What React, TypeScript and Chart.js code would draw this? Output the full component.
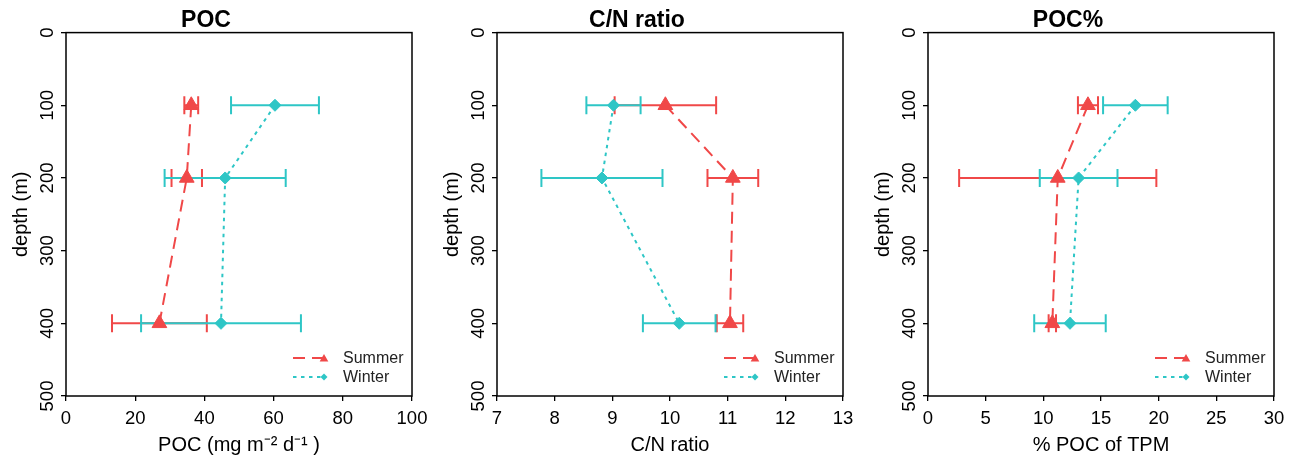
import React, { useEffect, useRef } from "react";
import { Chart, registerables } from "chart.js";

Chart.register(...registerables);

// ---------- data ----------
const depths = [100, 200, 400];
const depthTicks = [0, 100, 200, 300, 400, 500];

const pocTicks = [0, 20, 40, 60, 80, 100];
const pocSummer = [36.2, 34.9, 27.0];
const pocSummerErr = [2.0, 4.4, 13.7];
const pocWinter = [60.4, 46.0, 44.8];
const pocWinterErr = [12.7, 17.5, 23.1];

const cnTicks = [7, 8, 9, 10, 11, 12, 13];
const cnSummer = [9.92, 11.09, 11.04];
const cnSummerErr = [0.88, 0.44, 0.23];
const cnWinter = [9.02, 8.82, 10.16];
const cnWinterErr = [0.47, 1.05, 0.63];

const pctTicks = [0, 5, 10, 15, 20, 25, 30];
const pctSummer = [13.87, 11.25, 10.78];
const pctSummerErr = [0.87, 8.55, 0.32];
const pctWinter = [17.98, 13.06, 12.31];
const pctWinterErr = [2.8, 3.37, 3.1];

const seriesNames = ["Summer", "Winter"];

// ---------- styles ----------
const RED = "#F04848";
const CYAN = "#2EC6C6";
const FONT = '"Liberation Sans", Arial, Helvetica, sans-serif';
const SUMMER_DASH = [12, 7];
const WINTER_DASH = [3.5, 4.5];

type PanelDef = {
  title: string;
  xTitle: string;
  xTicks: number[];
  summer: number[];
  summerErr: number[];
  winter: number[];
  winterErr: number[];
};

const panels: PanelDef[] = [
  {
    title: "POC",
    xTitle: "POC (mg m\u207B\u00B2 d\u207B\u00B9 )",
    xTicks: pocTicks,
    summer: pocSummer,
    summerErr: pocSummerErr,
    winter: pocWinter,
    winterErr: pocWinterErr,
  },
  {
    title: "C/N ratio",
    xTitle: "C/N ratio",
    xTicks: cnTicks,
    summer: cnSummer,
    summerErr: cnSummerErr,
    winter: cnWinter,
    winterErr: cnWinterErr,
  },
  {
    title: "POC%",
    xTitle: "% POC of TPM",
    xTicks: pctTicks,
    summer: pctSummer,
    summerErr: pctSummerErr,
    winter: pctWinter,
    winterErr: pctWinterErr,
  },
];

function drawTriangle(ctx: CanvasRenderingContext2D, x: number, y: number, r: number) {
  ctx.beginPath();
  ctx.moveTo(x, y - r);
  ctx.lineTo(x + Math.sin((2 * Math.PI) / 3) * r, y + r / 2);
  ctx.lineTo(x - Math.sin((2 * Math.PI) / 3) * r, y + r / 2);
  ctx.closePath();
  ctx.fill();
}

function drawDiamond(ctx: CanvasRenderingContext2D, x: number, y: number, r: number) {
  ctx.beginPath();
  ctx.moveTo(x, y - r);
  ctx.lineTo(x + r, y);
  ctx.lineTo(x, y + r);
  ctx.lineTo(x - r, y);
  ctx.closePath();
  ctx.fill();
}

const errorBarPlugin = {
  id: "errorBars",
  beforeDatasetsDraw(chart: any) {
    const ctx = chart.ctx as CanvasRenderingContext2D;
    const xs = chart.scales.x;
    const ys = chart.scales.y;
    chart.data.datasets.forEach((ds: any) => {
      const errs: number[] = ds.errors || [];
      ctx.save();
      ctx.strokeStyle = ds.borderColor;
      ctx.lineWidth = 2;
      ctx.setLineDash([]);
      ds.data.forEach((p: any, i: number) => {
        const e = errs[i] || 0;
        const x1 = xs.getPixelForValue(p.x - e);
        const x2 = xs.getPixelForValue(p.x + e);
        const y = ys.getPixelForValue(p.y);
        const cap = 9;
        ctx.beginPath();
        ctx.moveTo(x1, y);
        ctx.lineTo(x2, y);
        ctx.moveTo(x1, y - cap);
        ctx.lineTo(x1, y + cap);
        ctx.moveTo(x2, y - cap);
        ctx.lineTo(x2, y + cap);
        ctx.stroke();
      });
      ctx.restore();
    });
  },
};

const framePlugin = {
  id: "frame",
  afterDraw(chart: any) {
    const ctx = chart.ctx as CanvasRenderingContext2D;
    const a = chart.chartArea;
    ctx.save();
    ctx.strokeStyle = "#000";
    ctx.lineWidth = 1.5;
    ctx.setLineDash([]);
    ctx.strokeRect(a.left, a.top, a.right - a.left, a.bottom - a.top);

    // rotated y tick labels (parallel to the axis)
    const ys = chart.scales.y;
    ctx.fillStyle = "#000";
    ctx.font = `18.5px ${FONT}`;
    ctx.textAlign = "center";
    ctx.textBaseline = "alphabetic";
    ys.ticks.forEach((t: any) => {
      const y = ys.getPixelForValue(t.value);
      ctx.save();
      ctx.translate(ys.right - 13, y);
      ctx.rotate(-Math.PI / 2);
      ctx.fillText(String(t.value), 0, 0);
      ctx.restore();
    });

    // legend
    const ds = chart.data.datasets;
    ctx.font = `16px ${FONT}`;
    ctx.textAlign = "left";
    ctx.textBaseline = "middle";
    ds.forEach((d: any, i: number) => {
      const y = a.bottom - 38 + i * 19;
      const x0 = a.right - 119;
      ctx.save();
      ctx.strokeStyle = d.borderColor;
      ctx.lineWidth = 2;
      ctx.setLineDash(d.borderDash);
      ctx.beginPath();
      ctx.moveTo(x0, y);
      ctx.lineTo(x0 + 32, y);
      ctx.stroke();
      ctx.setLineDash([]);
      ctx.fillStyle = d.borderColor;
      if (d.pointStyle === "triangle") drawTriangle(ctx, x0 + 31, y + 1, 5);
      else drawDiamond(ctx, x0 + 31, y, 3.5);
      ctx.restore();
      ctx.fillStyle = "#222";
      ctx.fillText(d.label, a.right - 69, y + 1);
    });
    ctx.restore();
  },
};

function PanelChart({ panel }: { panel: PanelDef }) {
  const ref = useRef<HTMLCanvasElement>(null);
  useEffect(() => {
    const toPts = (vals: number[]) => depths.map((d, i) => ({ x: vals[i], y: d }));
    const xMin = panel.xTicks[0];
    const xMax = panel.xTicks[panel.xTicks.length - 1];
    const chart = new Chart(ref.current as HTMLCanvasElement, {
      type: "scatter",
      data: {
        datasets: [
          {
            label: seriesNames[0],
            data: toPts(panel.summer),
            errors: panel.summerErr,
            showLine: true,
            borderColor: RED,
            backgroundColor: RED,
            borderWidth: 2,
            borderDash: SUMMER_DASH,
            pointStyle: "triangle",
            pointRadius: 8.5,
            pointBackgroundColor: RED,
            pointBorderColor: RED,
            pointBorderWidth: 1,
          } as any,
          {
            label: seriesNames[1],
            data: toPts(panel.winter),
            errors: panel.winterErr,
            showLine: true,
            borderColor: CYAN,
            backgroundColor: CYAN,
            borderWidth: 2,
            borderDash: WINTER_DASH,
            pointStyle: "rectRot",
            pointRadius: 6,
            pointBackgroundColor: CYAN,
            pointBorderColor: CYAN,
            pointBorderWidth: 1,
          } as any,
        ],
      },
      options: {
        responsive: false,
        animation: false,
        devicePixelRatio: 1,
        layout: { padding: { left: 0, right: 19, top: 0, bottom: 0 } },
        plugins: {
          legend: { display: false },
          tooltip: { enabled: false },
          title: {
            display: true,
            text: panel.title,
            color: "#000",
            font: { family: FONT, size: 23, weight: "bold" },
            padding: { top: 7, bottom: -2 },
          },
        },
        scales: {
          x: {
            type: "linear",
            min: xMin,
            max: xMax,
            afterBuildTicks: (s: any) => {
              s.ticks = panel.xTicks.map((v) => ({ value: v }));
            },
            afterFit: (s: any) => {
              s.height = 61;
              s.paddingLeft = 0;
              s.paddingRight = 0;
            },
            ticks: {
              color: "#000",
              font: { family: FONT, size: 18.5 },
              padding: 7,
              maxRotation: 0,
              autoSkip: false,
            },
            grid: {
              drawOnChartArea: false,
              drawTicks: true,
              tickLength: 5,
              color: "#000",
              lineWidth: 1.3,
            },
            border: { display: false },
            title: {
              display: true,
              text: panel.xTitle,
              color: "#000",
              font: { family: FONT, size: 20 },
              padding: { top: 0, bottom: 0 },
            },
          },
          y: {
            type: "linear",
            reverse: true,
            min: 0,
            max: 500,
            afterBuildTicks: (s: any) => {
              s.ticks = depthTicks.map((v) => ({ value: v }));
            },
            afterFit: (s: any) => {
              s.width = 66;
              s.paddingTop = 0;
              s.paddingBottom = 0;
            },
            ticks: { display: false },
            grid: {
              drawOnChartArea: false,
              drawTicks: true,
              tickLength: 5,
              color: "#000",
              lineWidth: 1.3,
            },
            border: { display: false },
            title: {
              display: true,
              text: "depth (m)",
              color: "#000",
              font: { family: FONT, size: 20 },
              padding: { top: 9, bottom: 9 },
            },
          },
        },
      } as any,
      plugins: [errorBarPlugin, framePlugin],
    });
    return () => chart.destroy();
  }, [panel]);
  return <canvas ref={ref} width={431} height={457} style={{ display: "block" }} />;
}

export default function App() {
  return (
    <div
      style={{
        position: "fixed",
        left: 0,
        top: 0,
        width: 1295,
        height: 457,
        background: "#fff",
      }}
    >
      {panels.map((p, i) => (
        <div key={p.title} style={{ position: "absolute", left: i * 431, top: 0, width: 431, height: 457 }}>
          <PanelChart panel={p} />
        </div>
      ))}
    </div>
  );
}
